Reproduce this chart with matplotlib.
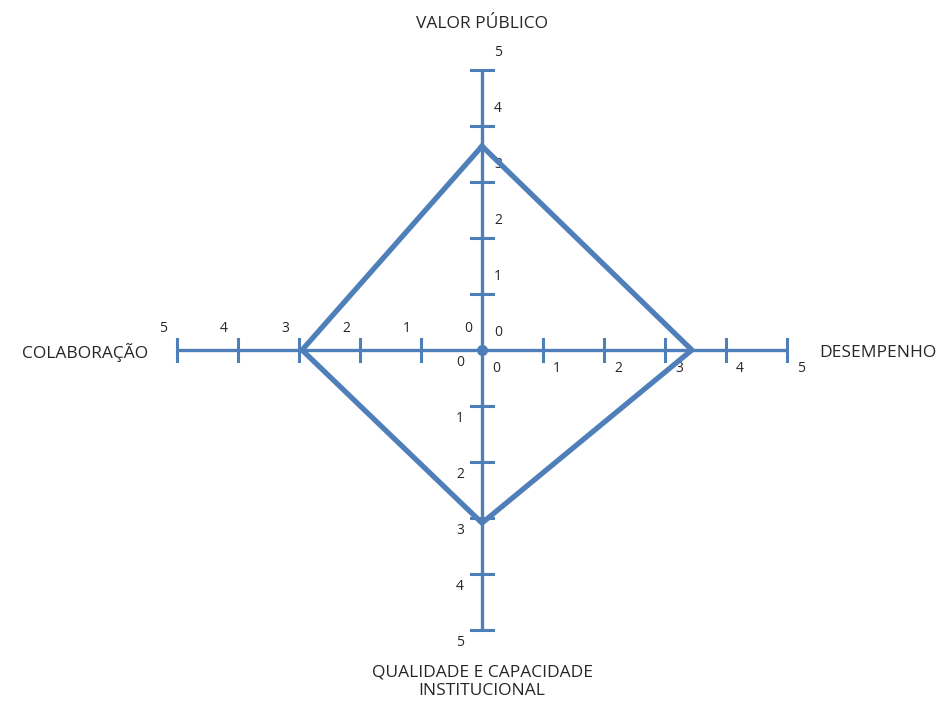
import matplotlib
matplotlib.use('Agg')
from matplotlib import pyplot as plt

# eixos: cima, direita, baixo, esquerda
eixos = ['VALOR PÚBLICO', 'DESEMPENHO', 'QUALIDADE E CAPACIDADE\nINSTITUCIONAL', 'COLABORAÇÃO']
valores = [3.64, 3.44, 3.09, 2.95]
escala = [0, 1, 2, 3, 4, 5]

azul = '#4f7fb8'
texto = '#262626'
fonte = 'Open Sans'

# direcao de cada eixo (dx, dy)
direcoes = [(0, 1), (1, 0), (0, -1), (-1, 0)]

fig = plt.figure(figsize=(9.44, 7.02), dpi=100)
ax = fig.add_axes([0, 0, 1, 1])
ax.set_xlim(-482 / 61, (944 - 482) / 61)
ax.set_ylim(-352 / 56, 350 / 56)
ax.axis('off')

vmax = escala[-1]
for dx, dy in direcoes:
    ax.plot([0, dx * vmax], [0, dy * vmax], color=azul, lw=2.4, solid_capstyle='butt', zorder=2)
    for v in escala[1:]:
        x, y = dx * v, dy * v
        if dx == 0:
            ax.plot([x - 0.18, x + 0.18], [y, y], color=azul, lw=2.2, zorder=2)
        else:
            ax.plot([x, x], [y - 0.19, y + 0.19], color=azul, lw=2.2, zorder=2)

# rotulos da escala
offsets = {(0, 1): (16, 17), (1, 0): (14, -19), (0, -1): (-22, -13), (-1, 0): (-14, 22)}
for d in direcoes:
    ox, oy = offsets[d]
    for v in escala:
        ax.annotate(str(v), (d[0] * v, d[1] * v), xytext=(ox, oy), textcoords='offset pixels',
                    ha='center', va='center', fontsize=10, color=texto, family=fonte)

# poligono
px = [d[0] * v for d, v in zip(direcoes, valores)]
py = [d[1] * v for d, v in zip(direcoes, valores)]
px.append(px[0])
py.append(py[0])
ax.plot(px, py, color=azul, lw=3.8, solid_joinstyle='miter', zorder=3)
ax.plot([0], [0], marker='o', ms=7, color=azul, zorder=4)

# titulos dos eixos
tam = 12.5
ax.annotate(eixos[0], (0, vmax), xytext=(0, 46), textcoords='offset pixels',
            ha='center', va='center', fontsize=tam, color=texto, family=fonte)
ax.annotate(eixos[1], (vmax, 0), xytext=(32, -3), textcoords='offset pixels',
            ha='left', va='center', fontsize=tam, color=texto, family=fonte)
ax.annotate(eixos[2], (0, -vmax), xytext=(0, -52), textcoords='offset pixels',
            ha='center', va='center', fontsize=tam, color=texto, family=fonte, linespacing=1.2)
ax.annotate(eixos[3], (-vmax, 0), xytext=(-29, -3), textcoords='offset pixels',
            ha='right', va='center', fontsize=tam, color=texto, family=fonte)

fig.savefig('out.png', dpi=100)
